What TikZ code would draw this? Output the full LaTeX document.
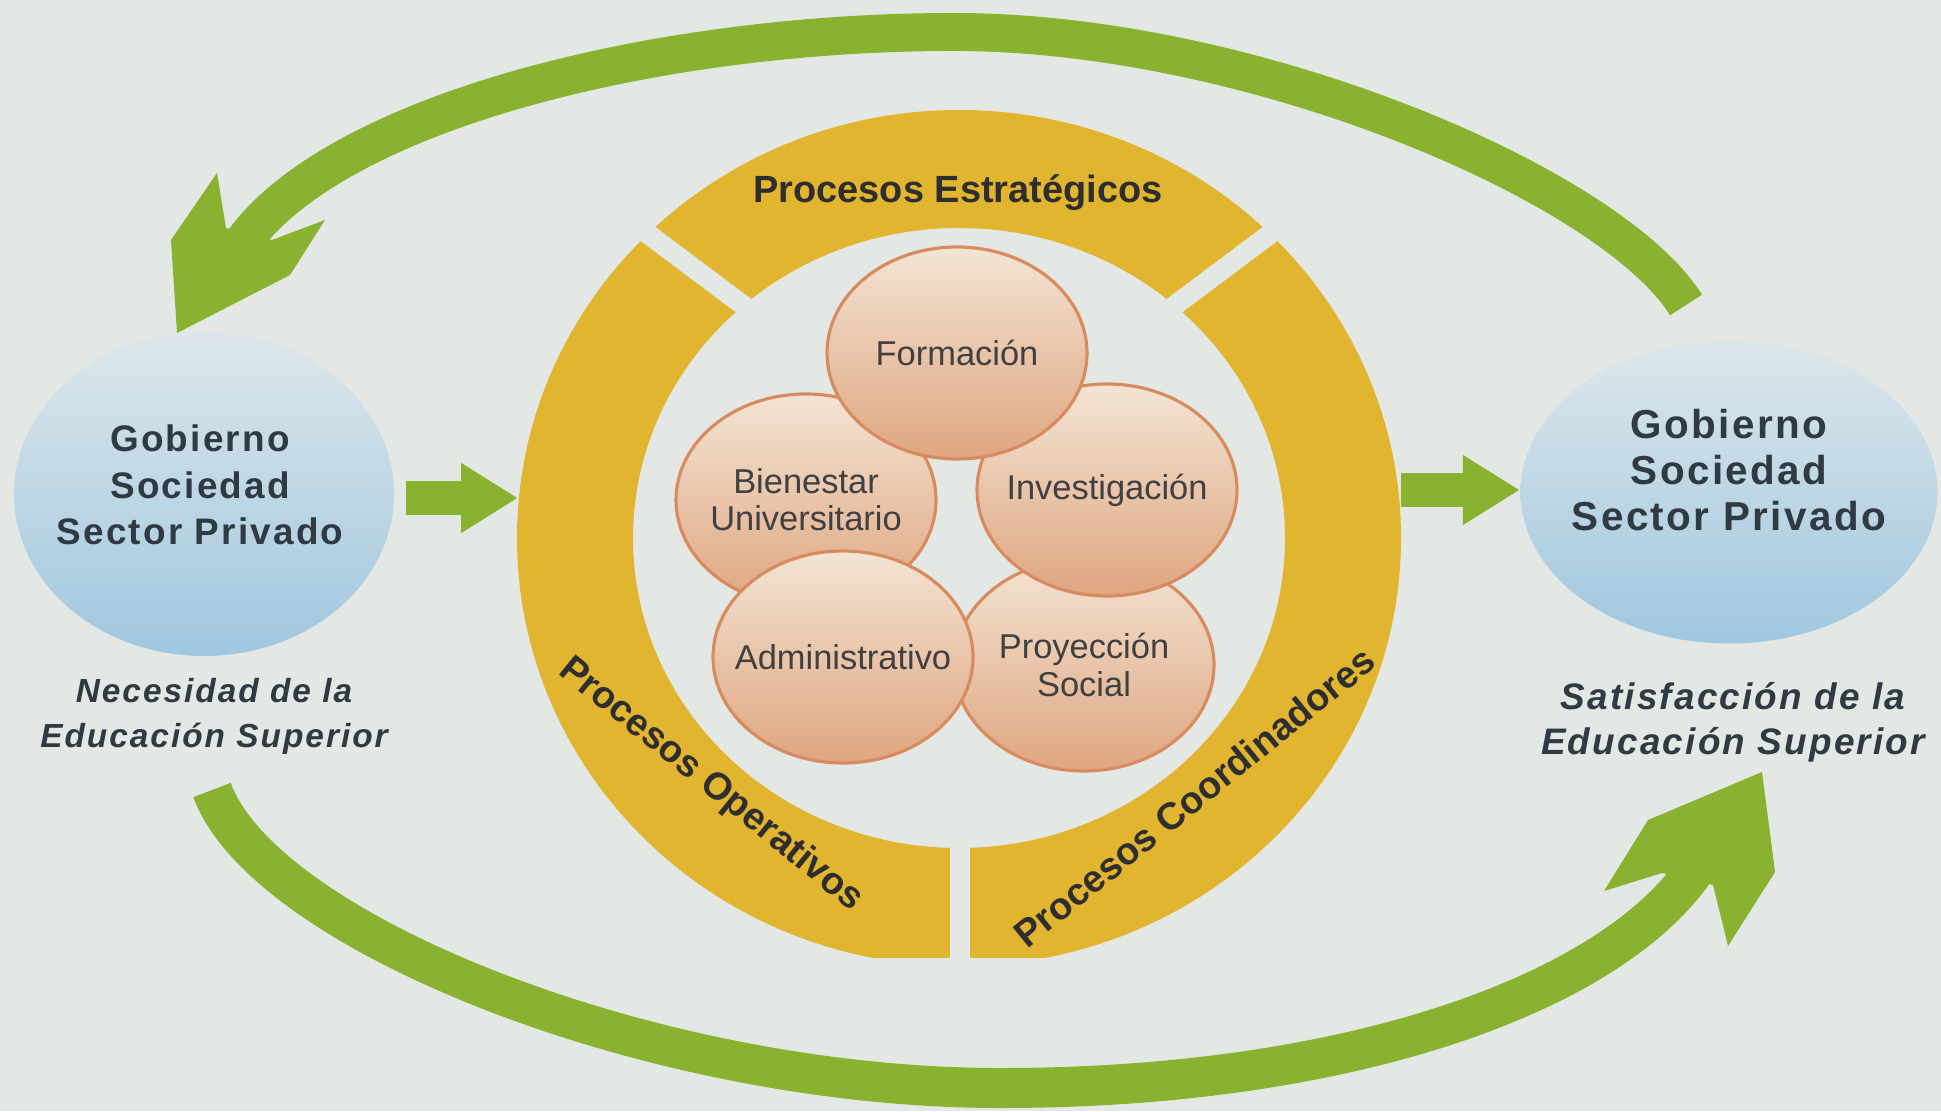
\documentclass[tikz,border=0pt]{standalone}
\usepackage{fontspec}
\setmainfont{Liberation Sans}
\newfontfamily\govfont{Liberation Sans}[LetterSpace=6]
\usetikzlibrary{arrows.meta,shapes.geometric}

\definecolor{fondo}{HTML}{E4E8E4}
\definecolor{amarillo}{HTML}{E2B530}
\definecolor{verde}{HTML}{8AB231}
\definecolor{azulclaro}{HTML}{DDE7EB}
\definecolor{azul}{HTML}{A0C7DF}
\definecolor{durazno}{HTML}{F3E4D4}
\definecolor{duraznoosc}{HTML}{DFA680}
\definecolor{borde}{HTML}{D98B60}
\definecolor{texto}{HTML}{2F3A42}

\begin{document}
\begin{tikzpicture}[
    actor/.style={ellipse, top color=azulclaro, bottom color=azul, inner sep=0pt},
    area/.style={ellipse, draw=borde, line width=0.9pt, top color=durazno, bottom color=duraznoosc,
        minimum width=2.6cm, minimum height=2.12cm, inner xsep=-0.6cm, inner ysep=0pt, align=center,
        text=black!75, font=\fontsize{9.8}{10.6}\selectfont},
    proceso/.style={text=black!82, font=\fontsize{10.8}{12}\selectfont\bfseries},
    gobtexto/.style={align=center, text=texto, font=\govfont\fontsize{#1}{13.2}\selectfont\bfseries},
    nota/.style={align=center, text=texto, font=\govfont\fontsize{#1}{12.8}\selectfont\bfseries\itshape},
    flecha/.style={verde, line width=0.34cm, -{Triangle[length=0.57cm,width=0.66cm]}},
    ciclo/.style={verde, line width=0.38cm},
    corte/.style={fondo, line width=0.2cm}
  ]
        \useasboundingbox (0,0) rectangle (19.41,11.11);
        \fill[fondo] (0,0) rectangle (19.41,11.11);

        % anillo de procesos
        \coordinate (ring) at (9.59,5.73);
        \begin{scope}
            \clip (0,1.54) rectangle (19.41,11.11);
            \fill[amarillo, even odd rule] (ring) ellipse[x radius=4.42, y radius=4.28]
                (ring) ellipse[x radius=3.26, y radius=3.10];
        \end{scope}
        \draw[corte] (6.28,8.92) -- (7.60,7.93);
        \draw[corte] (12.90,8.92) -- (11.58,7.93);
        \draw[corte] (9.60,1.30) -- (9.60,2.90);

        \node[proceso] (estrat) at (9.58,9.18) {Procesos Estratégicos};
        \node[proceso, rotate=-39] (operat) at (7.11,3.26) {Procesos Operativos};
        \node[proceso, rotate=39] (coord) at (11.94,3.14) {Procesos Coordinadores};

        \node[area] (proy) at (10.84,4.46) {Proyección\\Social};
        \node[area] (inv) at (11.07,6.21) {Investigación};
        \node[area] (bien) at (8.06,6.11) {Bienestar\\Universitario};
        \node[area] (adm) at (8.43,4.54) {Administrativo};
        \node[area] (form) at (9.57,7.58) {Formación};

        % actores
        \node[actor, minimum width=3.80cm, minimum height=3.24cm] (gobIzq) at (2.04,6.17) {};
        \node[actor, minimum width=4.17cm, minimum height=3.03cm] (gobDer) at (17.29,6.19) {};
        \node[gobtexto=10.5] (txtIzq) at (2.00,6.26) {Gobierno\\Sociedad\\Sector Privado};
        \node[gobtexto=11.5] (txtDer) at (17.29,6.41) {Gobierno\\Sociedad\\Sector Privado};
        \node[nota=9.5] (necesidad) at (2.14,3.95) {Necesidad de la\\Educación Superior};
        \node[nota=10.5] (satisf) at (17.33,3.89) {Satisfacción de la\\Educación Superior};

        \coordinate (anilloO) at (5.18,6.13);
        \coordinate (anilloE) at (14.01,6.21);
        \draw[flecha, shorten <=0.11cm] (gobIzq.east |- anilloO) -- (anilloO);
        \draw[flecha] (anilloE) -- (anilloE -| gobDer.west);

        % ciclo superior e inferior
        \coordinate (arribaIni) at (16.86,8.06);
        \coordinate (arribaMed) at (9.54,10.79);
        \coordinate (arribaFin) at (2.43,8.69);
        \coordinate (abajoIni) at (2.12,3.21);
        \coordinate (abajoMed) at (10.00,0.23);
        \coordinate (abajoFin) at (16.94,2.40);
        \draw[ciclo] (arribaIni) to[out=122, in=0, out distance=1.4cm, in distance=3.0cm] (arribaMed)
            to[out=180, in=54, out distance=3.0cm, in distance=1.6cm] (arribaFin);
        \fill[verde] (1.77,7.78) -- (1.71,8.71) -- (2.17,9.38) -- (2.26,8.83) -- (2.72,8.71)
            -- (3.25,8.91) -- (2.90,8.36) -- cycle;
        \draw[ciclo, line width=0.40cm] (abajoIni) to[out=-70, in=180, out distance=1.5cm, in distance=3.5cm] (abajoMed)
            to[out=0, in=235, out distance=3.5cm, in distance=1.5cm] (abajoFin);
        \fill[verde] (17.62,3.39) -- (17.75,2.39) -- (17.28,1.65) -- (17.13,2.26) -- (16.62,2.38)
            -- (16.04,2.20) -- (16.48,2.91) -- cycle;
\end{tikzpicture}
\end{document}
